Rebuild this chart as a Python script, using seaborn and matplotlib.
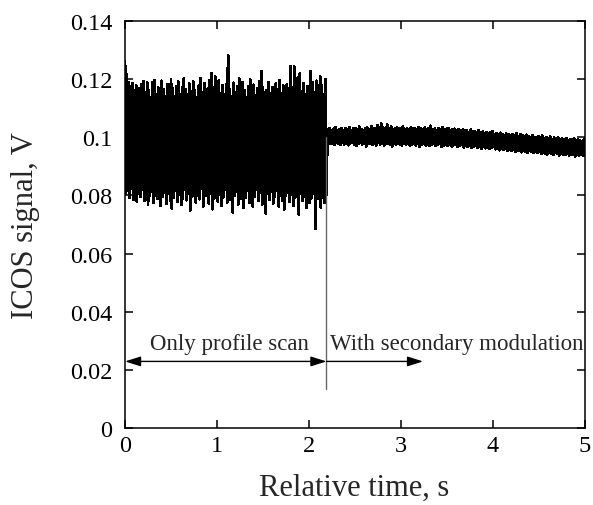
import numpy as np
import pandas as pd
import matplotlib
matplotlib.use("Agg")
import matplotlib.pyplot as plt
import seaborn as sns

# signal, in mV (peaks and troughs of the noisy trace)
# part 1: 0 - 2.19 s, only profile scan
peaks_1 = [126.0, 121.5, 119.0, 117.5, 118.5, 116.0, 117.8, 114.5, 116.8, 118.2,
           119.2, 115.5, 118.8, 116.2, 113.8, 118.9, 119.6, 114.8, 117.2, 115.2,
           119.4, 116.5, 113.9, 118.1, 115.7, 119.9, 116.9, 114.2, 117.6, 119.1,
           114.6, 117.3, 120.2, 116.4, 114.9, 118.4, 115.9, 119.3, 116.1, 113.6,
           117.7, 120.4, 115.3, 118.6, 114.4, 116.7, 119.7, 122.1, 117.1, 120.8,
           116.3, 119.5, 115.1, 117.9, 114.7, 118.3, 128.0, 116.6, 114.1, 118.7,
           115.4, 117.4, 120.1, 115.8, 119.0, 116.0, 113.7, 117.5, 119.8, 115.6,
           118.0, 114.3, 116.8, 119.2, 122.8, 117.0, 114.0, 116.2, 118.9, 115.0,
           117.3, 114.5, 118.5, 116.4, 119.6, 115.2, 117.8, 114.8, 118.2, 116.9,
           124.5, 117.2, 124.3, 115.5, 120.6, 121.9, 115.9, 118.6, 114.6, 117.6,
           116.1, 122.8, 118.8, 115.3, 119.4, 116.5, 120.9, 117.7, 114.9, 119.9]
troughs_1 = [80.5, 81.8, 79.2, 82.4, 78.6, 80.9, 77.8, 81.2, 79.7, 82.0,
             78.3, 80.4, 76.9, 79.9, 81.5, 77.4, 80.1, 78.9, 82.3, 76.4,
             79.5, 81.0, 77.1, 80.7, 78.1, 75.6, 79.3, 81.7, 77.9, 80.2,
             76.7, 79.0, 82.1, 78.4, 80.8, 74.9, 79.6, 81.3, 77.6, 80.0,
             78.7, 82.5, 76.2, 79.8, 81.1, 77.3, 80.6, 75.3, 79.1, 81.9,
             78.0, 80.3, 76.6, 79.4, 82.2, 77.7, 80.5, 78.5, 74.2, 79.9,
             81.4, 77.0, 80.1, 78.8, 75.9, 79.2, 81.6, 77.5, 80.4, 76.1,
             79.7, 82.0, 78.2, 80.9, 76.8, 79.0, 73.8, 80.6, 78.6, 81.2,
             77.2, 79.5, 81.8, 76.3, 80.0, 78.3, 75.1, 79.8, 81.0, 77.8,
             80.2, 76.5, 79.3, 82.4, 73.4, 80.7, 78.1, 79.6, 75.7, 81.5,
             77.4, 79.1, 80.8, 68.5, 78.9, 81.3, 76.0, 79.4, 77.6, 80.3]

# part 2: 2.2 - 5 s, with secondary modulation
peaks_2 = [102.6, 103.1, 102.4, 102.9, 103.3, 102.5, 102.8, 103.0, 102.3, 103.2,
           102.7, 103.4, 102.5, 102.9, 103.1, 102.6, 103.6, 102.8, 102.4, 103.0,
           103.3, 102.7, 103.8, 102.9, 103.2, 104.2, 103.0, 104.8, 103.4, 102.8,
           104.3, 103.1, 103.6, 102.7, 103.0, 103.5, 102.9, 103.2, 103.7, 102.8,
           103.1, 102.6, 103.4, 102.9, 103.2, 102.7, 103.5, 103.0, 102.6, 103.3,
           102.8, 103.1, 103.9, 102.7, 103.0, 102.5, 103.2, 102.8, 103.4, 102.6,
           102.9, 103.1, 102.5, 102.8, 102.9, 102.4, 102.7, 102.3, 102.6, 102.2,
           102.5, 101.8, 102.6, 101.9, 102.1, 101.5, 102.3, 101.7, 101.9, 101.4,
           101.8, 101.2, 101.6, 101.9, 101.0, 101.4, 100.8, 101.5, 101.1, 100.7,
           101.2, 100.9, 100.5, 101.0, 100.6, 101.3, 100.4, 100.9, 100.7, 100.2,
           100.8, 100.3, 100.0, 100.6, 100.1, 99.8, 100.4, 99.9, 100.5, 99.6,
           100.0, 99.7, 100.2, 99.4, 99.8, 99.5, 100.0, 99.2, 99.6, 99.3,
           99.7, 99.0, 99.4, 99.1, 99.5, 98.8, 99.2, 99.0, 98.7, 99.3]
troughs_2 = [98.2, 97.7, 98.0, 97.5, 98.3, 97.8, 97.4, 98.1, 97.6, 98.0,
             97.3, 97.9, 98.2, 97.6, 97.0, 97.8, 98.1, 97.5, 97.9, 96.8,
             97.7, 98.0, 97.4, 97.8, 97.2, 98.1, 97.6, 97.9, 97.3, 97.7,
             98.0, 97.5, 96.9, 97.8, 97.4, 98.0, 97.6, 97.2, 97.9, 97.5,
             97.8, 97.1, 97.6, 97.9, 97.3, 97.7, 96.7, 97.5, 97.8, 97.2,
             97.6, 97.0, 97.5, 97.8, 97.1, 97.4, 97.7, 96.8, 97.3, 97.6,
             97.1, 97.5, 96.9, 97.3, 97.6, 96.8, 97.2, 97.4, 96.6, 97.1,
             96.9, 97.2, 96.5, 96.9, 97.1, 96.4, 96.8, 96.2, 96.7, 96.3,
             96.6, 96.0, 96.4, 96.7, 95.9, 96.3, 95.6, 96.2, 95.8, 96.0,
             95.5, 95.9, 95.3, 95.7, 95.1, 95.6, 95.4, 94.9, 95.5, 95.2,
             94.8, 95.3, 95.0, 94.6, 95.1, 94.7, 95.0, 94.4, 94.9, 94.5,
             94.2, 94.8, 94.4, 94.0, 94.6, 94.3, 93.8, 94.5, 94.1, 93.9,
             94.4, 93.7, 94.2, 93.9, 93.5, 94.1, 93.6, 94.0, 93.8, 93.6]

switch_time = 2.19
x_ticks = [0, 1, 2, 3, 4, 5]
y_ticks = [0, 0.02, 0.04, 0.06, 0.08, 0.1, 0.12, 0.14]
y_tick_labels = ["0", "0.02", "0.04", "0.06", "0.08", "0.1", "0.12", "0.14"]


def interleave(a, b):
    out = np.empty(len(a) + len(b))
    out[0::2] = a
    out[1::2] = b
    return out


sig1 = interleave(peaks_1, troughs_1) / 1000
sig2 = interleave(peaks_2, troughs_2) / 1000
t1 = np.linspace(0, switch_time, len(sig1))
t2 = np.linspace(2.2, 5.0, len(sig2))
df = pd.DataFrame({"time": np.concatenate([t1, t2]),
                   "signal": np.concatenate([sig1, sig2])})

sns.set_style("ticks")
plt.rcParams["font.family"] = ["Liberation Serif", "DejaVu Serif"]

fig = plt.figure(figsize=(5.93, 5.06), dpi=100)
ax = fig.add_axes([0.2108, 0.1522, 0.7757, 0.8043])

sns.lineplot(data=df, x="time", y="signal", ax=ax, color="black",
             lw=1.4, estimator=None, sort=False, antialiased=False)

# marker line where the secondary modulation starts
ax.plot([switch_time, switch_time], [0.0134, 0.1], color="#666666", lw=1.0)

ax.annotate("", xy=(0, 0.0229), xytext=(switch_time, 0.0229),
            arrowprops=dict(arrowstyle="<|-|>,head_length=0.95,head_width=0.3",
                            mutation_scale=10, color="black", lw=1.0,
                            shrinkA=0, shrinkB=0))
ax.annotate("", xy=(3.24, 0.0229), xytext=(switch_time, 0.0229),
            arrowprops=dict(arrowstyle="-|>,head_length=0.95,head_width=0.3",
                            mutation_scale=10, color="black", lw=1.0,
                            shrinkA=0, shrinkB=0))
ax.text(1.14, 0.0272, "Only profile scan", fontsize=16.5, ha="center", va="baseline")
ax.text(2.23, 0.0272, "With secondary modulation", fontsize=16.5, ha="left", va="baseline")

ax.set_xlim(0, 5)
ax.set_ylim(0, 0.14)
ax.set_xticks(x_ticks)
ax.set_xticklabels([str(v) for v in x_ticks])
ax.set_yticks(y_ticks)
ax.set_yticklabels(y_tick_labels)
ax.tick_params(direction="in", length=6, width=1.1, labelsize=17.5,
               top=True, right=True, color="black", labelcolor="black")
ax.tick_params(axis="y", pad=9)
ax.tick_params(axis="x", pad=5)
for s in ax.spines.values():
    s.set_linewidth(1.1)
    s.set_color("black")

ax.set_xlabel("Relative time, s", fontsize=22)
ax.set_ylabel("ICOS signal, V", fontsize=22)
ax.xaxis.set_label_coords(0.498, -0.11)
ax.yaxis.set_label_coords(-0.185, 0.50)

fig.savefig("out.png", dpi=100)
